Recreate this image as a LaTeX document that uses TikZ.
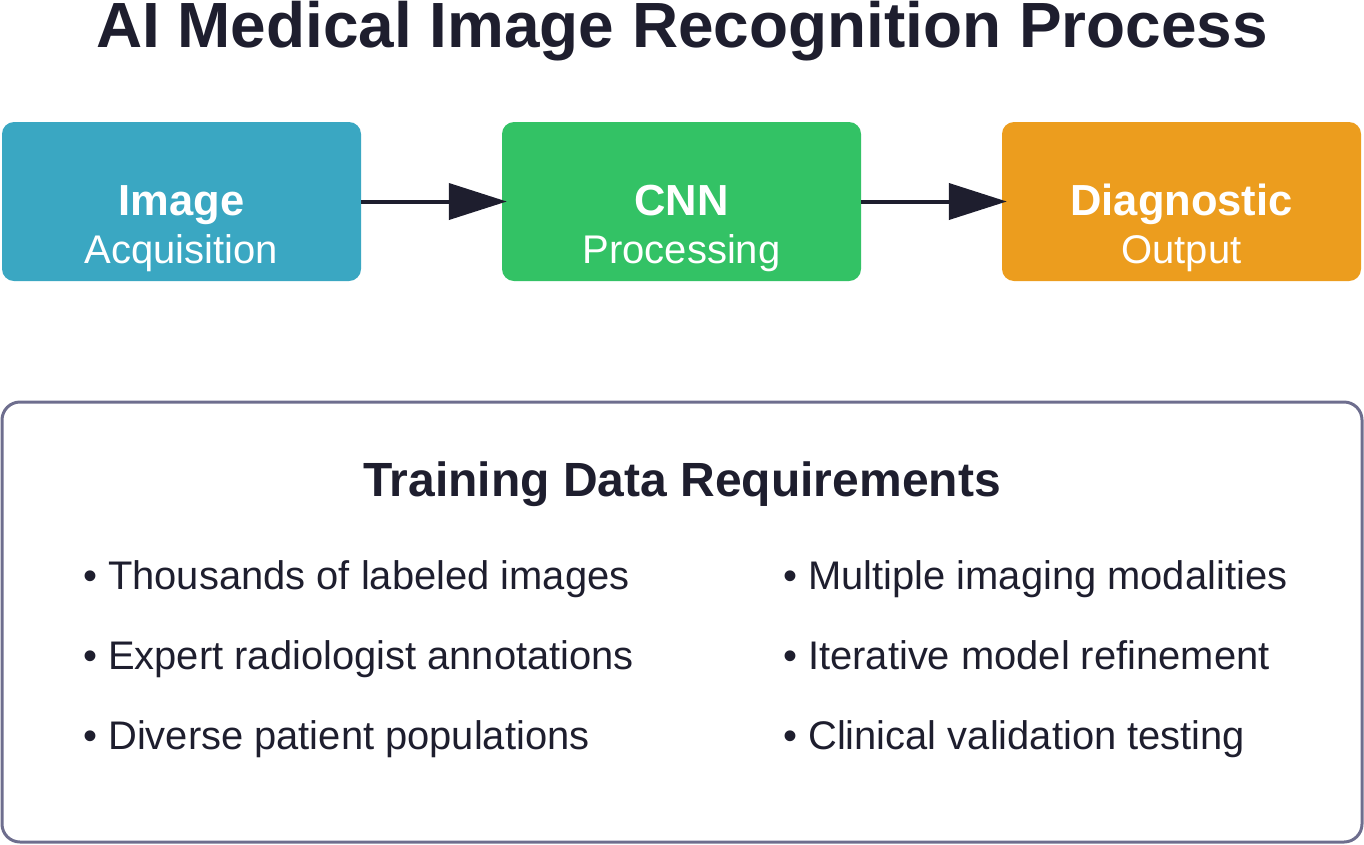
\documentclass[tikz,border=0pt]{standalone}
\usepackage{fontspec}
\setmainfont{Liberation Sans}
\usetikzlibrary{arrows.meta}
\definecolor{ink}{HTML}{1E1E2E}
\definecolor{cblue}{HTML}{3AA7C2}
\definecolor{cgreen}{HTML}{33C265}
\definecolor{corange}{HTML}{EC9D1E}
\definecolor{cpanel}{HTML}{6E6E8E}
\tikzset{
  stagebox/.style={draw=none, rounded corners=12pt, minimum width=359pt, minimum height=159pt, inner sep=0pt},
  boxhead/.style={anchor=base, text=white, font=\fontsize{43.5}{48}\selectfont\bfseries, inner sep=0pt},
  boxsub/.style={anchor=base, text=white, font=\fontsize{40}{44}\selectfont, inner sep=0pt},
  flow/.style={line width=4pt, draw=ink, -{Triangle[length=58pt,width=36pt]}},
  panel/.style={draw=cpanel, line width=3pt, rounded corners=18pt, fill=white, minimum width=1360pt, minimum height=440pt, inner sep=0pt},
  bullet/.style={anchor=base west, text=ink, font=\fontsize{39.9}{44}\selectfont, inner sep=0pt},
}
\begin{document}
\begin{tikzpicture}[x=1pt,y=-1pt]
\useasboundingbox (0,0) rectangle (1364,844);
\node[anchor=base, text=ink, font=\fontsize{63.9}{70}\selectfont\bfseries, inner sep=0pt] (title) at (682,47) {AI Medical Image Recognition Process};

\node[stagebox, fill=cblue] (acq) at (181.5,201.5) {};
\node[stagebox, fill=cgreen] (cnn) at (681.5,201.5) {};
\node[stagebox, fill=corange] (diag) at (1181.5,201.5) {};

\node[boxhead] (acqh) at (181.5,215) {Image};
\node[boxsub] (acqs) at (181.5,263) {Acquisition};
\node[boxhead] (cnnh) at (681.5,215) {CNN};
\node[boxsub] (cnns) at (681.5,263) {Processing};
\node[boxhead] (diagh) at (1181.5,215) {Diagnostic};
\node[boxsub] (diags) at (1181.5,263) {Output};

\draw[flow] (acq.east) -- ([xshift=5pt]cnn.west);
\draw[flow] (cnn.east) -- ([xshift=5pt]diag.west);

\node[panel] (panel) at (682,622) {};
\node[anchor=base, text=ink, font=\fontsize{48}{52}\selectfont\bfseries, inner sep=0pt] (panelh) at (682,496) {Training Data Requirements};

\node[bullet] (b1) at (83,589) {• Thousands of labeled images};
\node[bullet] (b2) at (83,669) {• Expert radiologist annotations};
\node[bullet] (b3) at (83,749) {• Diverse patient populations};
\node[bullet] (b4) at (783,589) {• Multiple imaging modalities};
\node[bullet] (b5) at (783,669) {• Iterative model refinement};
\node[bullet] (b6) at (783,749) {• Clinical validation testing};
\end{tikzpicture}
\end{document}
